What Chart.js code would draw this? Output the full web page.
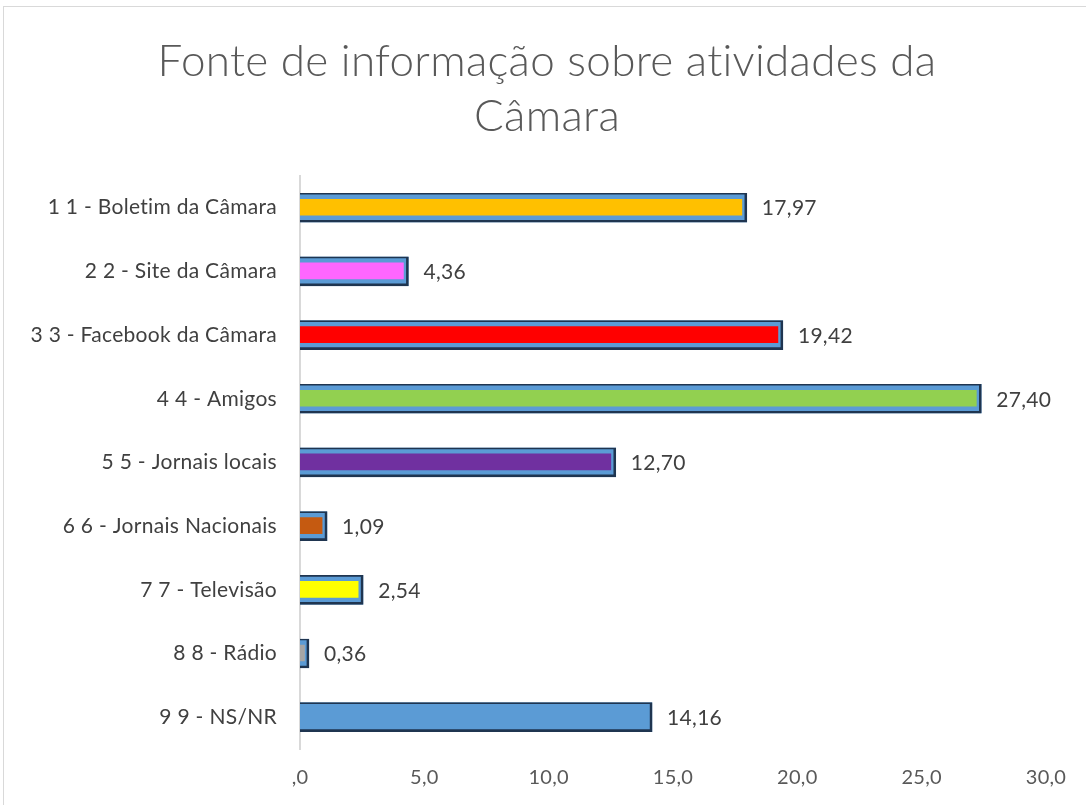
<!DOCTYPE html>
<html>
<head>
<meta charset="utf-8">
<script src="https://cdn.jsdelivr.net/npm/chart.js@4/dist/chart.umd.min.js"></script>
<style>
    html, body { margin: 0; padding: 0; background: #fff; }
    #wrap { position: relative; width: 1086px; height: 805px; overflow: hidden; }
    #frame { position: absolute; left: 3px; top: 6px; width: 1100px; height: 820px; border: 1px solid #d9d9d9; box-sizing: border-box; }
    canvas { position: absolute; left: 0; top: 0; }
</style>
</head>
<body>
<div id="wrap">
    <div id="frame"></div>
    <canvas id="grafico" width="1086" height="805"></canvas>
</div>
<script>
const categorias = [
    "1 1 - Boletim da Câmara",
    "2 2 - Site da Câmara",
    "3 3 - Facebook da Câmara",
    "4 4 - Amigos",
    "5 5 - Jornais locais",
    "6 6 - Jornais Nacionais",
    "7 7 - Televisão",
    "8 8 - Rádio",
    "9 9 - NS/NR"
];
const valores = [17.97, 4.36, 19.42, 27.40, 12.70, 1.09, 2.54, 0.36, 14.16];
const cores = ["#ffc000", "#ff66ff", "#ff0000", "#92d050", "#7030a0", "#c55a11", "#ffff00", "#a5a5a5", "#5b9bd5"];
const ticksX = [0, 5, 10, 15, 20, 25, 30];

const fonte = "Lato";

function virgula(v, casas) {
    return v.toFixed(casas).replace('.', ',');
}

// um pouco de espacamento evita as ligaduras "ti" da Lato
const semLigadura = {
    id: 'semLigadura',
    beforeUpdate(chart) { chart.ctx.letterSpacing = '0.3px'; },
    beforeDraw(chart) { chart.ctx.letterSpacing = '0.3px'; }
};

// rotulos de valor no fim das barras
const rotulos = {
    id: 'rotulos',
    afterDatasetsDraw(chart) {
        const ctx = chart.ctx;
        const meta = chart.getDatasetMeta(1);
        ctx.save();
        ctx.font = "21px " + fonte;
        ctx.fillStyle = "#404040";
        ctx.textAlign = "left";
        ctx.textBaseline = "middle";
        meta.data.forEach((bar, i) => {
            ctx.fillText(virgula(valores[i], 2), bar.x + 15, bar.y + 1);
        });
        ctx.restore();
    }
};

new Chart(document.getElementById('grafico'), {
    type: 'bar',
    data: {
        labels: categorias,
        datasets: [
            {
                // barra colorida por dentro, com moldura azul
                data: valores,
                backgroundColor: cores,
                borderColor: "#5b9bd5",
                borderWidth: { top: 6, right: 5, bottom: 7, left: 0 },
                borderSkipped: 'start',
                barThickness: 29,
                grouped: false,
                order: 2
            },
            {
                // contorno escuro por cima
                data: valores,
                backgroundColor: "rgba(0,0,0,0)",
                borderColor: "#1f3550",
                borderWidth: { top: 1, right: 2, bottom: 2, left: 0 },
                borderSkipped: 'start',
                barThickness: 29,
                grouped: false,
                order: 1
            }
        ]
    },
    options: {
        indexAxis: 'y',
        responsive: false,
        animation: false,
        layout: { padding: { top: 0, right: 16, bottom: 0, left: 24 } },
        plugins: {
            legend: { display: false },
            tooltip: { enabled: false },
            title: {
                display: true,
                text: ["Fonte de informação sobre atividades da", "Câmara"],
                color: "#595959",
                font: { family: fonte, size: 44, weight: 300, lineHeight: 1.26 },
                padding: { top: 34, bottom: 31 }
            }
        },
        scales: {
            x: {
                min: 0,
                max: 30,
                afterBuildTicks(scale) {
                    scale.ticks = ticksX.map(v => ({ value: v }));
                },
                afterFit(scale) { scale.height = 56; },
                grid: { display: false, drawTicks: false },
                border: { display: false },
                ticks: {
                    padding: 17,
                    color: "#595959",
                    font: { family: fonte, size: 20 },
                    callback: v => v === 0 ? ",0" : virgula(v, 1)
                }
            },
            y: {
                afterFit(scale) { scale.width = 276; },
                grid: { display: false, drawTicks: false },
                border: { display: true, color: "#d9d9d9", width: 2 },
                ticks: {
                    padding: 23,
                    color: "#404040",
                    font: { family: fonte, size: 21 }
                }
            },
            // eixo vazio so para reservar espaco a direita
            margemDir: {
                type: 'linear',
                position: 'right',
                afterFit(scale) { scale.width = 24; },
                grid: { display: false, drawTicks: false },
                border: { display: false },
                ticks: { display: false }
            }
        }
    },
    plugins: [semLigadura, rotulos]
});
</script>
</body>
</html>
